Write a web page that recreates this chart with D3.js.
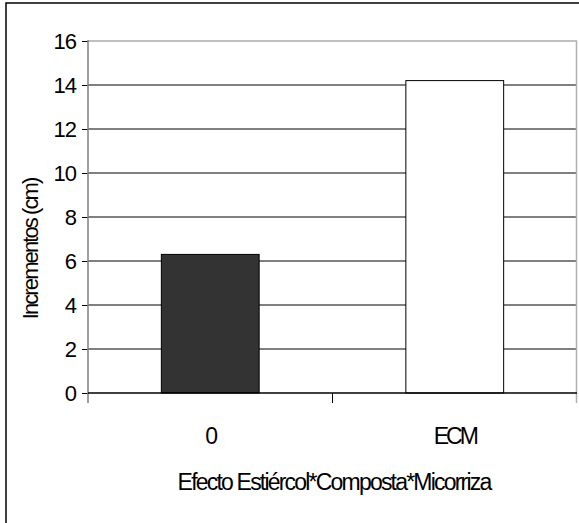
<!DOCTYPE html>
<html>
<head>
<meta charset="utf-8">
<script src="https://cdn.jsdelivr.net/npm/d3@7"></script>
<style>
    body { margin: 0; background: #fff; }
    svg { display: block; font-family: "Liberation Sans", Arial, sans-serif; }
</style>
</head>
<body>
<div id="wrapper"></div>
<script>
/*global d3*/

const categories = ["0", "ECM"]
const values = [6.3, 14.2]
const barColors = ["#333333", "#ffffff"]
const yTicks = [0, 2, 4, 6, 8, 10, 12, 14, 16]
const yLabel = "Incrementos (cm)"
const xLabel = "Efecto Estiércol*Composta*Micorriza"

const dims = {
    width: 579,
    height: 523,
    margin: { top: 41, right: 2, bottom: 130, left: 88 },
}
dims.boundedWidth = dims.width - dims.margin.left - dims.margin.right
dims.boundedHeight = dims.height - dims.margin.top - dims.margin.bottom

const wrapper = d3.select("#wrapper")
    .append("svg")
    .attr("width", dims.width)
    .attr("height", dims.height)

// outer frame (right and bottom edges are cut off in the picture)
wrapper.append("rect")
    .attr("x", 6)
    .attr("y", 3)
    .attr("width", 600)
    .attr("height", 600)
    .attr("fill", "none")
    .attr("stroke", "#000")
    .attr("stroke-width", 1.5)

const bounds = wrapper.append("g")
    .attr("transform", `translate(${dims.margin.left},${dims.margin.top})`)

const xScale = d3.scaleBand()
    .domain(categories)
    .range([0, dims.boundedWidth])
    .paddingInner(0.6)
    .paddingOuter(0.3)

const yScale = d3.scaleLinear()
    .domain([0, 16])
    .range([dims.boundedHeight, 0])

// gridlines
bounds.append("g")
    .selectAll("line")
    .data(yTicks.filter(d => d > 0))
    .join("line")
    .attr("x1", 0)
    .attr("x2", dims.boundedWidth)
    .attr("y1", d => yScale(d))
    .attr("y2", d => yScale(d))
    .attr("stroke", d => d == 16 ? "#808080" : "#000")
    .attr("stroke-width", 1)

// right edge of plot
bounds.append("line")
    .attr("x1", dims.boundedWidth - 0.5)
    .attr("x2", dims.boundedWidth - 0.5)
    .attr("y1", 0)
    .attr("y2", dims.boundedHeight + 10)
    .attr("stroke", "#b0b0b0")
    .attr("stroke-width", 1.5)

// bars
bounds.append("g")
    .selectAll("rect")
    .data(values)
    .join("rect")
    .attr("x", (d, i) => xScale(categories[i]))
    .attr("y", d => yScale(d))
    .attr("width", xScale.bandwidth())
    .attr("height", d => dims.boundedHeight - yScale(d))
    .attr("fill", (d, i) => barColors[i])
    .attr("stroke", "#000")
    .attr("stroke-width", 1)

// y axis
const yAxisGenerator = d3.axisLeft(yScale)
    .tickValues(yTicks)
    .tickSize(6)
    .tickPadding(6)

const yAxis = bounds.append("g")
    .call(yAxisGenerator)
yAxis.select(".domain").remove()
yAxis.selectAll(".tick line").attr("stroke", "#000")
yAxis.selectAll("text")
    .attr("fill", "#000")
    .style("font-size", "22px")
    .style("letter-spacing", "-1px")

bounds.append("line")
    .attr("x1", 0)
    .attr("x2", 0)
    .attr("y1", -1)
    .attr("y2", dims.boundedHeight + 10)
    .attr("stroke", "#808080")
    .attr("stroke-width", 1.5)

// x axis
const xAxis = bounds.append("g")
    .attr("transform", `translate(0,${dims.boundedHeight})`)

xAxis.append("line")
    .attr("x1", 0)
    .attr("x2", dims.boundedWidth)
    .attr("stroke", "#000")
    .attr("stroke-width", 1.5)

xAxis.selectAll(".sep")
    .data([xScale.step()])
    .join("line")
    .attr("class", "sep")
    .attr("x1", d => d)
    .attr("x2", d => d)
    .attr("y1", 0)
    .attr("y2", 10)
    .attr("stroke", "#000")

xAxis.selectAll(".cat")
    .data(categories)
    .join("text")
    .attr("class", "cat")
    .attr("x", d => xScale(d) + xScale.bandwidth() / 2)
    .attr("y", 51)
    .attr("text-anchor", "middle")
    .style("font-size", "23px")
    .style("letter-spacing", "-3px")
    .text(d => d)

xAxis.append("text")
    .attr("x", 246)
    .attr("y", 97)
    .attr("text-anchor", "middle")
    .style("font-size", "23px")
    .style("letter-spacing", "-1.8px")
    .text(xLabel)

// y label
bounds.append("text")
    .attr("transform", `translate(-50,${yScale(6.55)}) rotate(-90)`)
    .attr("text-anchor", "middle")
    .style("font-size", "22px")
    .style("letter-spacing", "-1.9px")
    .text(yLabel)
</script>
</body>
</html>
